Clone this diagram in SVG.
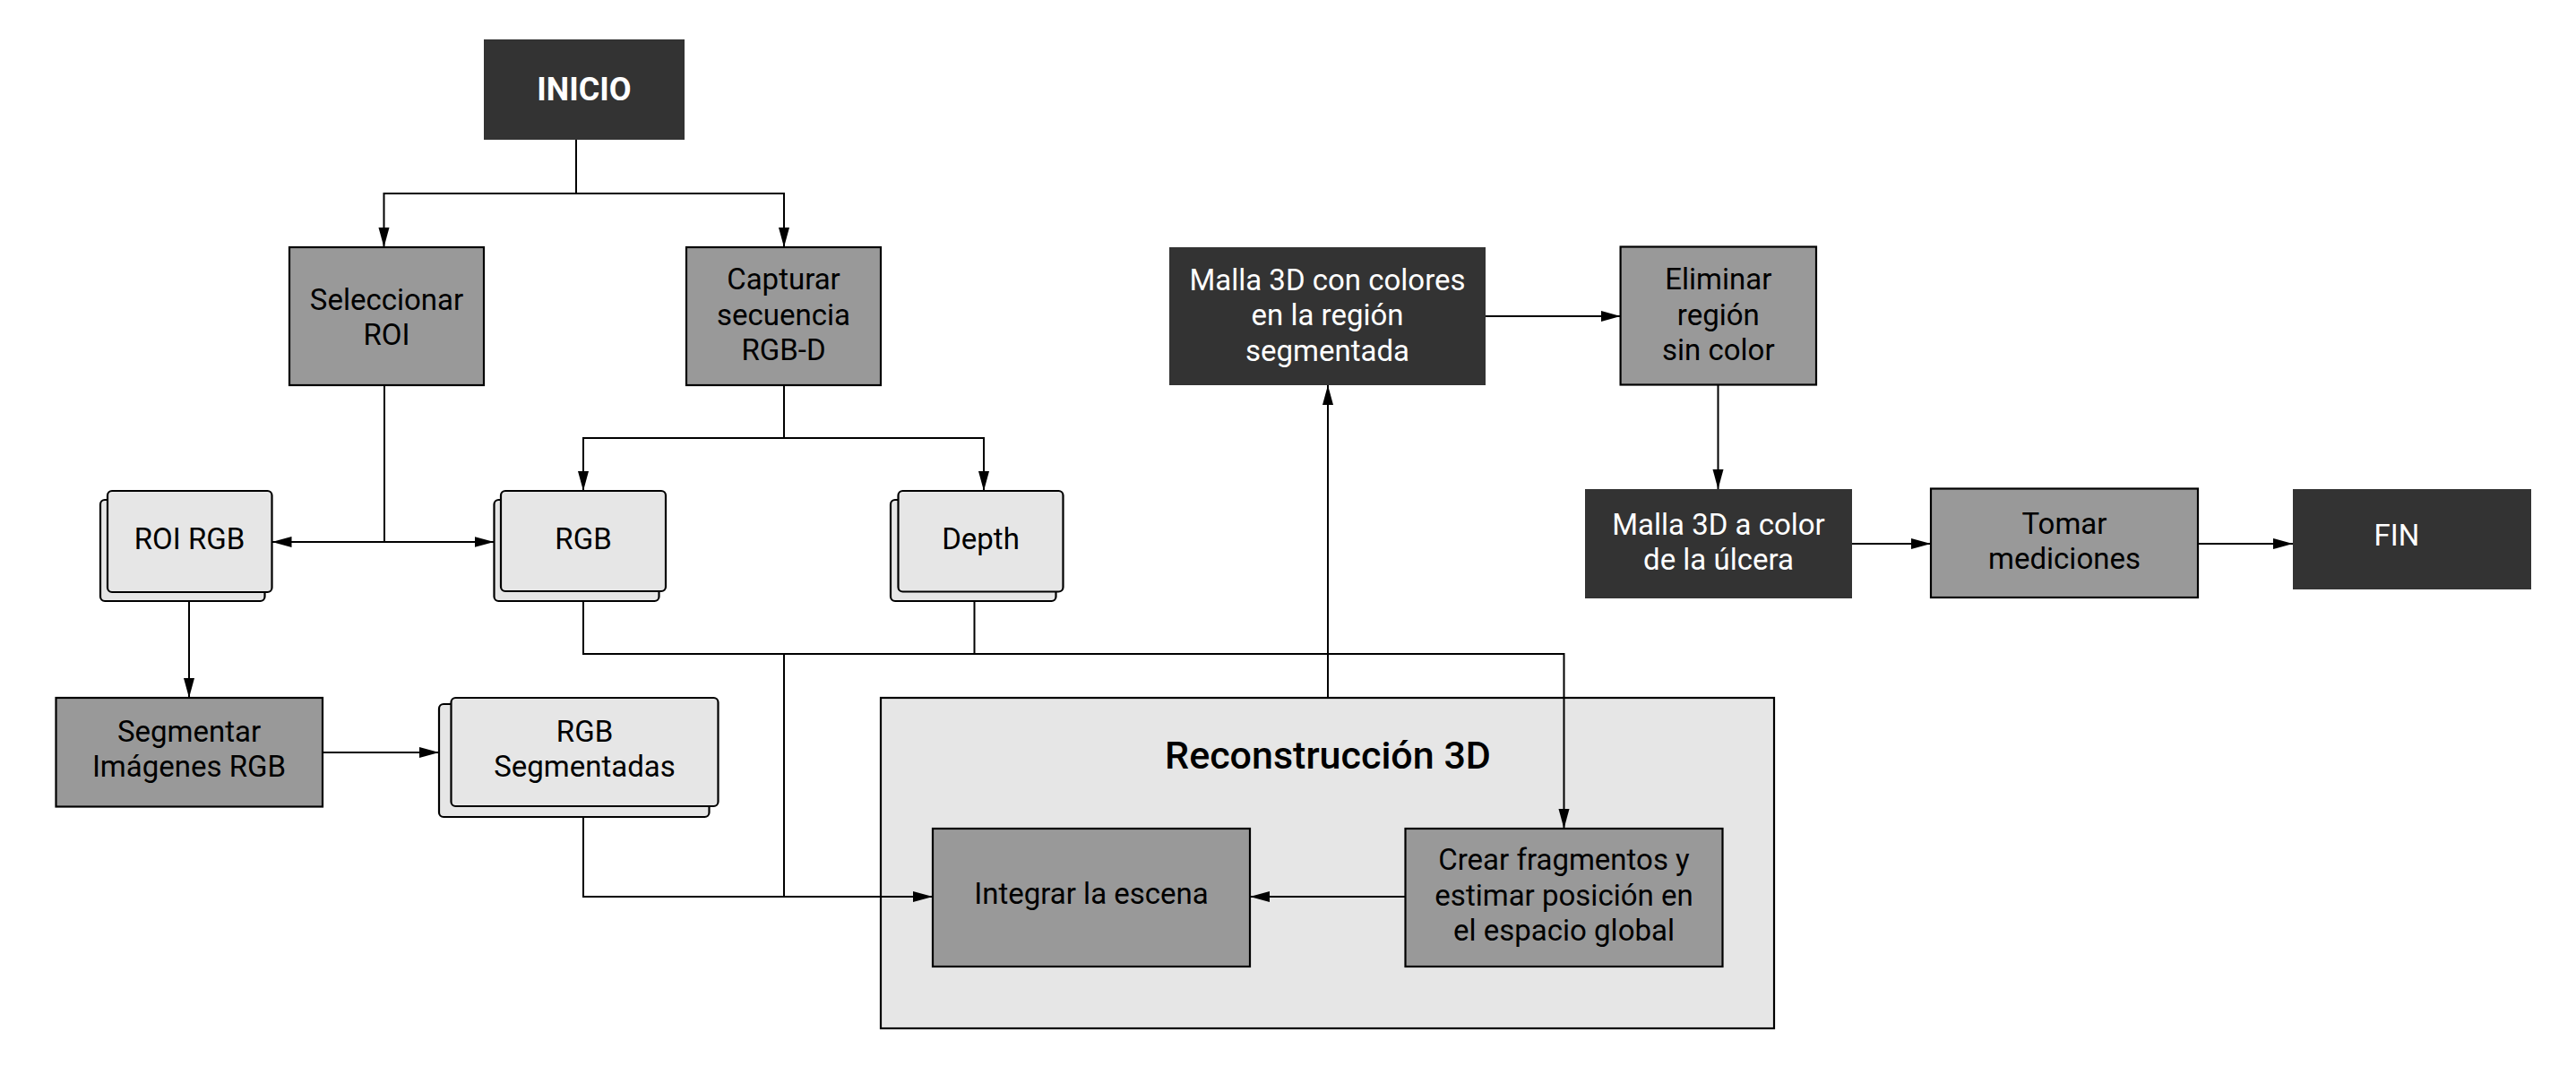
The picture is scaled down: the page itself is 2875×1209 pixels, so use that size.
<svg xmlns="http://www.w3.org/2000/svg" width="2875" height="1209" viewBox="0 0 2875 1209">
<style>
text{font-family:Roboto,"Liberation Sans",sans-serif;font-size:33px;text-anchor:middle;fill:#000}
.w{fill:#fff}
.b{font-weight:700;font-size:36px}
.title{font-weight:500;font-size:43px}
.dark{fill:#333333}
.gray{fill:#999999;stroke:#000;stroke-width:2.2}
.lt{fill:#e6e6e6;stroke:#000;stroke-width:2.2}
.cont{fill:#e6e6e6;stroke:#000;stroke-width:2.2}
.c{fill:none;stroke:#000;stroke-width:2}
</style>
<defs>
<marker id="ah" markerUnits="userSpaceOnUse" markerWidth="24" markerHeight="14" refX="22" refY="6" orient="auto-start-reverse" viewBox="0 0 24 14">
<path d="M0,0 L22,6 L0,12 z" fill="#000"/>
</marker>
</defs>
<rect width="2875" height="1209" fill="#fff"/>
<g id="reconstruccion">
<rect class="cont" x="983" y="779" width="997" height="369"/>
<text class="title" x="1482" y="858">Reconstrucción 3D</text>
</g>
<g id="connectors">
<path class="c" d="M643,156 V216"/>
<path class="c" d="M643,216 H428.5 V276" marker-end="url(#ah)"/>
<path class="c" d="M643,216 H875 V276" marker-end="url(#ah)"/>
<path class="c" d="M429,430 V605"/>
<path class="c" d="M303.5,605 H551.5" marker-start="url(#ah)" marker-end="url(#ah)"/>
<path class="c" d="M875,430 V489"/>
<path class="c" d="M875,489 H651 V548" marker-end="url(#ah)"/>
<path class="c" d="M875,489 H1098 V548" marker-end="url(#ah)"/>
<path class="c" d="M211,671 V779" marker-end="url(#ah)"/>
<path class="c" d="M360,840 H490" marker-end="url(#ah)"/>
<path class="c" d="M651,671 V730 H1745.5 V925" marker-end="url(#ah)"/>
<path class="c" d="M1087.5,671 V730"/>
<path class="c" d="M875,730 V1001"/>
<path class="c" d="M651,912 V1001 H1041" marker-end="url(#ah)"/>
<path class="c" d="M1482,779 V430" marker-end="url(#ah)"/>
<path class="c" d="M1568,1001 H1395" marker-end="url(#ah)"/>
<path class="c" d="M1658,353 H1808.6" marker-end="url(#ah)"/>
<path class="c" d="M1917.5,430 V546" marker-end="url(#ah)"/>
<path class="c" d="M2067,607 H2155" marker-end="url(#ah)"/>
<path class="c" d="M2453,607 H2559" marker-end="url(#ah)"/>
</g>
<g id="inicio">
<rect class="dark" x="540" y="44" width="224" height="112"/>
<text class="w b" x="652" y="112">INICIO</text>
</g>
<g id="seleccionar">
<rect class="gray" x="323" y="276" width="217" height="154"/>
<text x="431.5" y="346">Seleccionar</text>
<text x="431.5" y="385">ROI</text>
</g>
<g id="capturar">
<rect class="gray" x="766" y="276" width="217" height="154"/>
<text x="874.5" y="323">Capturar</text>
<text x="874.5" y="362.5">secuencia</text>
<text x="874.5" y="402">RGB-D</text>
</g>
<g id="roi-rgb">
<rect class="lt" x="112" y="558" width="183.5" height="113" rx="5"/>
<rect class="lt" x="120" y="548" width="183.5" height="113" rx="5"/>
<text x="211.5" y="613">ROI RGB</text>
</g>
<g id="rgb">
<rect class="lt" x="551.5" y="558" width="184" height="113" rx="5"/>
<rect class="lt" x="559" y="548" width="184" height="112" rx="5"/>
<text x="651" y="613">RGB</text>
</g>
<g id="depth">
<rect class="lt" x="994" y="558" width="184.5" height="113" rx="5"/>
<rect class="lt" x="1002.5" y="548" width="184" height="112.5" rx="5"/>
<text x="1094.5" y="613">Depth</text>
</g>
<g id="segmentar">
<rect class="gray" x="62.5" y="779" width="297.5" height="121.5"/>
<text x="211" y="828">Segmentar</text>
<text x="211" y="867">Imágenes RGB</text>
</g>
<g id="rgb-segmentadas">
<rect class="lt" x="490" y="786" width="301.5" height="126" rx="5"/>
<rect class="lt" x="503.5" y="779" width="298" height="121" rx="5"/>
<text x="652.5" y="828">RGB</text>
<text x="652.5" y="867">Segmentadas</text>
</g>
<g id="integrar">
<rect class="gray" x="1041" y="925" width="354" height="154"/>
<text x="1218" y="1009">Integrar la escena</text>
</g>
<g id="crear">
<rect class="gray" x="1568.5" y="925" width="354" height="154"/>
<text x="1745.5" y="971">Crear fragmentos y</text>
<text x="1745.5" y="1010.5">estimar posición en</text>
<text x="1745.5" y="1050">el espacio global</text>
</g>
<g id="malla-colores">
<rect class="dark" x="1305" y="276" width="353" height="154"/>
<text class="w" x="1481.5" y="323.5">Malla 3D con colores</text>
<text class="w" x="1481.5" y="363">en la región</text>
<text class="w" x="1481.5" y="402.5">segmentada</text>
</g>
<g id="eliminar">
<rect class="gray" x="1808.6" y="275.5" width="218.4" height="154"/>
<text x="1917.8" y="323">Eliminar</text>
<text x="1917.8" y="362.5">región</text>
<text x="1917.8" y="402">sin color</text>
</g>
<g id="malla-color">
<rect class="dark" x="1769" y="546" width="298" height="122"/>
<text class="w" x="1918" y="597">Malla 3D a color</text>
<text class="w" x="1918" y="636">de la úlcera</text>
</g>
<g id="tomar">
<rect class="gray" x="2155" y="545.5" width="298" height="121.5"/>
<text x="2304" y="596">Tomar</text>
<text x="2304" y="635">mediciones</text>
</g>
<g id="fin">
<rect class="dark" x="2559" y="546" width="266" height="112"/>
<text class="w" x="2675" y="609">FIN</text>
</g>
</svg>
